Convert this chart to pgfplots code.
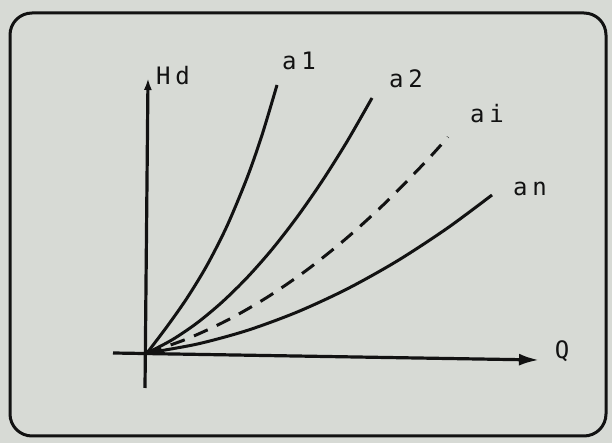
\documentclass[border=0pt]{standalone}
\usepackage{pgfplots}
\pgfplotsset{compat=1.18}
\usepackage{fontspec}
\setmainfont{DejaVu Sans Mono}
\usetikzlibrary{arrows.meta}
\definecolor{bg}{RGB}{215,218,213}
\definecolor{ink}{RGB}{18,18,18}
\newcommand{\lsp}{\hspace{2.5pt}}
\tikzset{lab/.style={font=\fontsize{12}{13}\selectfont, text=ink, inner sep=0pt}}
\begin{document}
\begin{tikzpicture}
\begin{axis}[
  scale only axis, width=306pt, height=221.5pt,
  xmin=0, xmax=612, ymin=0, ymax=443, y dir=reverse,
  axis lines=none, clip=false,
  axis background/.style={fill=bg},
]
% frame
\draw[ink, line width=1.5pt, rounded corners=11pt] (axis cs:10,13) rectangle (axis cs:606,436);
% axes
\addplot[ink, line width=1.6pt, -{Latex[length=6pt,width=4pt]}] coordinates {(145,388) (148,78)};
\addplot[ink, line width=1.6pt, -{Latex[length=10pt,width=6pt]}] coordinates {(113,353) (539,360)};
% curves
\addplot[ink, line width=1.5pt, smooth] coordinates {(147,353)(167,326.6)(187,298.1)(207,265.3)(227,226)(247,178)(262,135.1)(277,85)};
\addplot[ink, line width=1.5pt, smooth] coordinates {(147,353)(172,339.9)(197,323.0)(222,302.2)(247,277.7)(272,249.4)(297,217.2)(322,181.3)(347,141.6)(372,98)};
\addplot[ink, line width=1.5pt, smooth, dash pattern=on 7.5pt off 5pt] coordinates {(147,353)(187,338.9)(227,320.4)(267,297.4)(307,269.9)(347,237.8)(387,201.3)(427,160.3)(448,137)};
\addplot[ink, line width=1.5pt, smooth] coordinates {(147,353)(197,344.1)(247,330.5)(297,312.1)(347,289)(397,261.1)(447,228.4)(492,195)};
% labels
\node[lab] at (axis cs:173,76) {H\lsp d};
\node[lab] at (axis cs:299,61) {a\lsp 1};
\node[lab] at (axis cs:406,79) {a\lsp 2};
\node[lab] at (axis cs:487,114) {a\lsp i};
\node[lab] at (axis cs:530,189) {a\lsp n};
\node[lab] at (axis cs:562,351) {Q};
\end{axis}
\end{tikzpicture}
\end{document}
